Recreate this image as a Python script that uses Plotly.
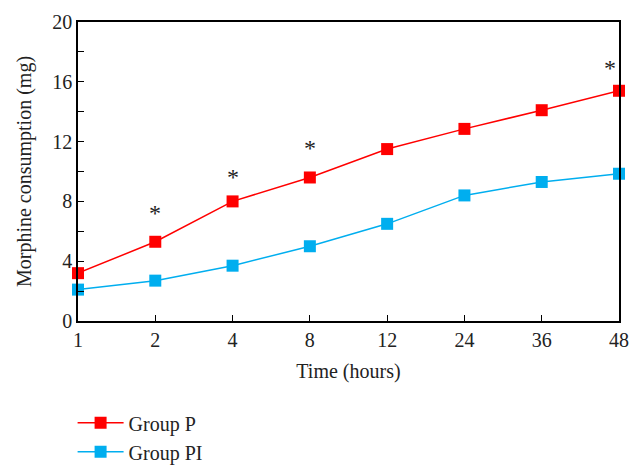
import plotly.graph_objects as go

hours = ["1", "2", "4", "8", "12", "24", "36", "48"]
group_p = [3.2, 5.3, 8.0, 9.6, 11.5, 12.85, 14.1, 15.4]
group_pi = [2.1, 2.7, 3.7, 5.0, 6.5, 8.4, 9.3, 9.85]
star_hours = ["2", "4", "8", "48"]
star_y = [7.2, 9.6, 11.6, 16.9]

FONT = "Liberation Serif"

fig = go.Figure()
fig.add_trace(go.Scatter(
    x=hours, y=group_p, name="Group P", mode="lines+markers",
    line=dict(color="#ff0000", width=1.5),
    marker=dict(symbol="square", size=12, color="#ff0000"),
    cliponaxis=False,
))
fig.add_trace(go.Scatter(
    x=hours, y=group_pi, name="Group PI", mode="lines+markers",
    line=dict(color="#00aeef", width=1.5),
    marker=dict(symbol="square", size=12, color="#00aeef"),
    cliponaxis=False,
))
for h, yv in zip(star_hours, star_y):
    fig.add_annotation(x=hours.index(h), y=yv, text="*", showarrow=False,
                       xshift=-9 if h == "48" else 0,
                       font=dict(family=FONT, size=24, color="#222"))

fig.update_layout(
    width=635, height=467,
    margin=dict(l=70, r=24, t=14, b=154, autoexpand=False),
    plot_bgcolor="white", paper_bgcolor="white",
    font=dict(family=FONT, size=20, color="#222"),
    showlegend=True,
    legend=dict(x=-0.01, y=-0.275, xanchor="left", yanchor="top",
                font=dict(family=FONT, size=20), tracegroupgap=0,
                itemwidth=46, bgcolor="rgba(0,0,0,0)"),
    xaxis=dict(
        type="category", range=[0, 7],
        showline=True, linecolor="black", linewidth=1.5, mirror=True,
        ticks="inside", ticklen=6, tickcolor="black",
        showgrid=False, zeroline=False,
        title=dict(text="Time (hours)", font=dict(size=20), standoff=14),
    ),
    yaxis=dict(
        range=[0, 20], tickvals=[0, 4, 8, 12, 16, 20],
        showline=True, linecolor="black", linewidth=1.5, mirror=True,
        ticks="inside", ticklen=6, tickcolor="black",
        minor=dict(dtick=2, ticks="inside", ticklen=6, tickcolor="black", showgrid=False),
        showgrid=False, zeroline=False,
        title=dict(text="Morphine consumption (mg)", font=dict(size=20), standoff=15),
    ),
)

fig.write_html("out.html")
